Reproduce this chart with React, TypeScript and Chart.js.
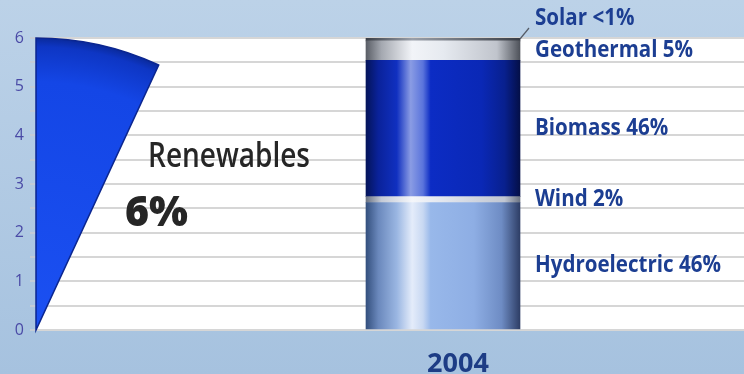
import { useEffect, useRef } from 'react';
import { Chart, registerables } from 'chart.js';

Chart.register(...registerables);

// ---- data ----
const categories = ['2004'];
const sources = ['Hydroelectric', 'Wind', 'Biomass', 'Geothermal', 'Solar'];
const shareLabels = ['46%', '2%', '46%', '5%', '<1%'];
const sourceValues = [2.62, 0.12, 2.8, 0.4, 0.06];
const renewablesTitle = 'Renewables';
const renewablesShare = '6%';
const wedgeFraction = 0.069; // share of the full circle as drawn
const yMin = 0;
const yMax = 6;
const yStep = 0.5;

const FONT = '"Open Sans", "DejaVu Sans", sans-serif';

const cylinderStops: Record<string, [number, string][]> = {
  Hydroelectric: [[0, '#34507e'], [0.08, '#6a88bc'], [0.2, '#9ab6e2'], [0.3, '#e4ecfa'], [0.37, '#c8d8f2'], [0.42, '#98b8ea'], [0.7, '#8eaee4'], [0.88, '#6e8cc4'], [1, '#2e3e66']],
  Wind: [[0, '#6c7484'], [0.1, '#c4cad6'], [0.3, '#f4f6fa'], [0.5, '#e2e6ee'], [0.9, '#c0c6d2'], [1, '#6c7484']],
  Biomass: [[0, '#04145a'], [0.08, '#0a229a'], [0.2, '#1030c0'], [0.29, '#8a9ce4'], [0.37, '#5a74dc'], [0.42, '#0c2cc4'], [0.75, '#0a28b6'], [0.9, '#08208e'], [1, '#040f48']],
  Geothermal: [[0, '#5a5e66'], [0.1, '#a4a8b0'], [0.3, '#f2f4f8'], [0.5, '#e6eaf0'], [0.85, '#c0c4cc'], [1, '#4e525a']],
  Solar: [[0, '#3a3e46'], [0.3, '#9aa0aa'], [1, '#3a3e46']],
};

const BAR_W = 154;

function cylinder(c: any, name: string) {
  const chart = c.chart;
  const stops = cylinderStops[name];
  const xs = chart.scales?.x;
  if (!xs || !chart.chartArea) return stops[Math.floor(stops.length / 2)][1];
  const cx = xs.getPixelForValue(0);
  const g = chart.ctx.createLinearGradient(cx - BAR_W / 2, 0, cx + BAR_W / 2, 0);
  stops.forEach(([o, col]) => g.addColorStop(o, col));
  return g;
}

function drawScaled(ctx: CanvasRenderingContext2D, text: string, x: number, y: number, sx: number) {
  ctx.save();
  ctx.translate(x, y);
  ctx.scale(sx, 1);
  ctx.fillText(text, 0, 0);
  ctx.restore();
}

const backgroundPlugin = {
  id: 'bg',
  beforeDraw(chart: any) {
    const { ctx, width, height, chartArea } = chart;
    ctx.save();
    const g = ctx.createLinearGradient(0, 0, 0, height);
    g.addColorStop(0, '#bcd2e8');
    g.addColorStop(1, '#a6c2df');
    ctx.fillStyle = g;
    ctx.fillRect(0, 0, width, height);
    ctx.fillStyle = '#ffffff';
    ctx.fillRect(chartArea.left, chartArea.top, chartArea.right - chartArea.left, chartArea.bottom - chartArea.top);
    ctx.restore();
  },
};

const wedgePlugin = {
  id: 'wedge',
  beforeDatasetsDraw(chart: any) {
    const { ctx, chartArea } = chart;
    const ys = chart.scales.y;
    const cx = chartArea.left;
    const y0 = ys.getPixelForValue(yMin);
    const r = y0 - ys.getPixelForValue(yMax);
    ctx.save();
    ctx.beginPath();
    ctx.moveTo(cx, y0);
    ctx.arc(cx, y0, r, -Math.PI / 2, -Math.PI / 2 + wedgeFraction * 2 * Math.PI);
    ctx.closePath();
    const g = ctx.createRadialGradient(cx, y0, 0, cx, y0, r);
    g.addColorStop(0, '#1b50f2');
    g.addColorStop(0.85, '#1446e6');
    g.addColorStop(0.97, '#0e36c4');
    g.addColorStop(1, '#0a2a9c');
    ctx.fillStyle = g;
    ctx.fill();
    ctx.strokeStyle = '#0b2690';
    ctx.lineWidth = 1.5;
    ctx.stroke();
    ctx.restore();
  },
};

const labelsPlugin = {
  id: 'labels',
  afterDatasetsDraw(chart: any) {
    const { ctx, chartArea } = chart;
    const ys = chart.scales.y;
    ctx.save();
    // Renewables title
    ctx.fillStyle = '#262626';
    ctx.textBaseline = 'alphabetic';
    ctx.textAlign = 'left';
    ctx.font = `600 34px ${FONT}`;
    let sx = 162 / ctx.measureText(renewablesTitle).width;
    drawScaled(ctx, renewablesTitle, chartArea.left + 112, ys.getPixelForValue(3.35), sx);
    ctx.font = `800 43px ${FONT}`;
    sx = 63 / ctx.measureText(renewablesShare).width;
    drawScaled(ctx, renewablesShare, chartArea.left + 89, ys.getPixelForValue(2.13), sx);

    // source labels
    ctx.font = `bold 23px ${FONT}`;
    ctx.fillStyle = '#1c3e92';
    ctx.textBaseline = 'middle';
    sx = 186 / ctx.measureText('Hydroelectric 46%').width;
    sources.forEach((name, i) => {
      const el = chart.getDatasetMeta(i).data[0];
      if (!el) return;
      const right = el.x + el.width / 2;
      let yc = (el.y + el.base) / 2;
      if (name === 'Solar') {
        yc = chartArea.top - 20;
        ctx.strokeStyle = '#555b66';
        ctx.lineWidth = 1.2;
        ctx.beginPath();
        ctx.moveTo(right, el.y + 1);
        ctx.lineTo(right + 9, yc + 10);
        ctx.stroke();
      }
      drawScaled(ctx, `${name} ${shareLabels[i]}`, right + 15, yc, sx);
    });
    ctx.restore();
  },
};

export default function App() {
  const ref = useRef<HTMLCanvasElement>(null);
  useEffect(() => {
    const chart = new Chart(ref.current!, {
      type: 'bar',
      data: {
        labels: categories,
        datasets: sources.map((name, i) => ({
          label: name,
          data: [sourceValues[i]],
          backgroundColor: (c: any) => cylinder(c, name),
          borderWidth: 0,
          barThickness: BAR_W,
        })),
      },
      options: {
        animation: false,
        responsive: true,
        maintainAspectRatio: false,
        layout: { padding: { top: 38, left: 0, right: 0, bottom: 0 } },
        plugins: { legend: { display: false }, tooltip: { enabled: false } },
        scales: {
          x: {
            stacked: true,
            grid: { display: false },
            border: { display: false },
            ticks: {
              color: '#1d3c85',
              font: { family: FONT, size: 27, weight: 'bold' },
              padding: 10,
              labelOffset: 15,
            },
            afterFit: (s: any) => { s.height = 44; },
          },
          y: {
            stacked: true,
            min: yMin,
            max: yMax,
            border: { display: false },
            grid: { color: '#d6d6d6', lineWidth: 2, tickLength: 6, tickColor: '#c4ccd6' },
            ticks: {
              stepSize: yStep,
              color: '#4a4aa6',
              font: { family: FONT, size: 16 },
              padding: 6,
              callback: (v: any) => (Number.isInteger(v) ? String(v) : ''),
            },
            afterFit: (s: any) => { s.width = 36; },
          },
        },
      },
      plugins: [backgroundPlugin, wedgePlugin, labelsPlugin],
    });
    return () => chart.destroy();
  }, []);
  return (
    <div style={{ position: 'fixed', left: 0, top: 0, width: 744, height: 374, overflow: 'hidden' }}>
      <div style={{ position: 'relative', width: 850, height: 374 }}>
        <canvas ref={ref} />
      </div>
    </div>
  );
}
